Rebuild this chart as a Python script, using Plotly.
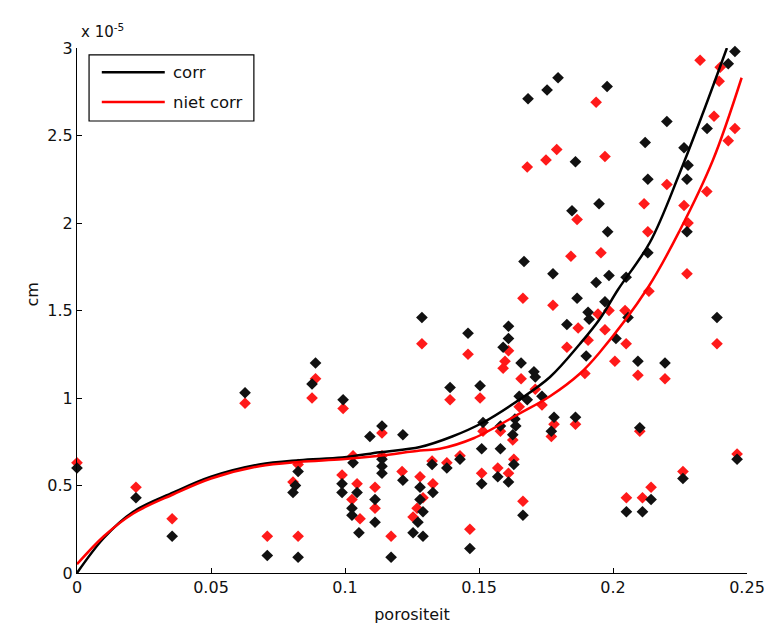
import plotly.graph_objects as go

# ---- data (y in units of 1e-5 cm) ----
black_x = [0.0, 0.022, 0.0355, 0.0627, 0.071, 0.0825, 0.0806, 0.0815, 0.0825, 0.0877, 0.089,
           0.0993, 0.103, 0.0989, 0.0989, 0.1045, 0.1026, 0.1026, 0.1052, 0.1093, 0.1138,
           0.1138, 0.1138, 0.1138, 0.1112, 0.1112, 0.1172, 0.1216, 0.1216, 0.128, 0.128,
           0.1291, 0.1272, 0.1254, 0.1291, 0.1287, 0.1325, 0.1328, 0.1392, 0.138, 0.1429,
           0.1459, 0.1466, 0.1504, 0.1515, 0.158, 0.151, 0.158, 0.151, 0.157, 0.161, 0.163,
           0.1664, 0.161, 0.161, 0.159, 0.1657, 0.1705, 0.171, 0.165, 0.168, 0.1735, 0.1634,
           0.1637, 0.1626, 0.178, 0.177, 0.186, 0.1795, 0.1754, 0.1683, 0.186, 0.1948,
           0.1847, 0.1668, 0.1776, 0.1937, 0.1866, 0.1828, 0.1978, 0.2201, 0.2351, 0.212,
           0.2265, 0.228, 0.2276, 0.213, 0.198, 0.2276, 0.213, 0.1985, 0.2049, 0.197,
           0.1907, 0.1911, 0.2056, 0.2011, 0.19, 0.2093, 0.2194, 0.2388, 0.21, 0.2463,
           0.2261, 0.2142, 0.211, 0.205, 0.2455, 0.243]
black_y = [0.60, 0.43, 0.21, 1.03, 0.10, 0.09, 0.46, 0.50, 0.58, 1.08, 1.20,
           0.99, 0.63, 0.51, 0.46, 0.46, 0.37, 0.33, 0.23, 0.78, 0.84,
           0.65, 0.61, 0.57, 0.42, 0.29, 0.09, 0.79, 0.53, 0.49, 0.42,
           0.35, 0.29, 0.23, 0.21, 1.46, 0.62, 0.46, 1.06, 0.60, 0.65,
           1.37, 0.14, 1.07, 0.86, 0.84, 0.71, 0.71, 0.51, 0.55, 0.52, 0.62,
           0.33, 1.41, 1.34, 1.29, 1.20, 1.15, 1.12, 1.01, 0.99, 1.01, 0.88,
           0.84, 0.79, 0.89, 0.81, 0.89, 2.83, 2.76, 2.71, 2.35, 2.11,
           2.07, 1.78, 1.71, 1.66, 1.57, 1.42, 2.78, 2.58, 2.54, 2.46,
           2.43, 2.33, 2.25, 2.25, 1.95, 1.95, 1.83, 1.70, 1.69, 1.55,
           1.49, 1.45, 1.46, 1.34, 1.24, 1.21, 1.20, 1.46, 0.83, 0.65,
           0.54, 0.42, 0.35, 0.35, 2.98, 2.91]

red_x = [0.0, 0.022, 0.0355, 0.0627, 0.071, 0.0825, 0.0806, 0.0825, 0.0877, 0.089,
         0.0993, 0.103, 0.0989, 0.1045, 0.1026, 0.1056, 0.1138, 0.1138, 0.1112, 0.1112,
         0.1172, 0.1213, 0.128, 0.1291, 0.1269, 0.1254, 0.1287, 0.1325, 0.1328, 0.1392,
         0.138, 0.1429, 0.1459, 0.1466, 0.1504, 0.1515, 0.158, 0.151, 0.157, 0.161, 0.163,
         0.1664, 0.161, 0.1597, 0.159, 0.1657, 0.171, 0.165, 0.1735, 0.1626, 0.178, 0.177,
         0.186, 0.1937, 0.179, 0.175, 0.168, 0.1866, 0.1955, 0.1843, 0.1664, 0.1776,
         0.2325, 0.24, 0.2396, 0.2377, 0.2455, 0.243, 0.197, 0.2201, 0.235, 0.2116,
         0.2265, 0.213, 0.228, 0.2276, 0.2134, 0.1985, 0.2045, 0.187, 0.1944, 0.197,
         0.1907, 0.2049, 0.1828, 0.2007, 0.1895, 0.2093, 0.2194, 0.2388, 0.21, 0.2463,
         0.2261, 0.2142, 0.211, 0.205]
red_y = [0.63, 0.49, 0.31, 0.97, 0.21, 0.21, 0.52, 0.62, 1.00, 1.11,
         0.94, 0.67, 0.56, 0.51, 0.42, 0.31, 0.80, 0.67, 0.49, 0.37,
         0.21, 0.58, 0.55, 0.43, 0.37, 0.32, 1.31, 0.64, 0.51, 0.99,
         0.63, 0.67, 1.25, 0.25, 1.00, 0.81, 0.81, 0.57, 0.60, 0.57, 0.65,
         0.41, 1.27, 1.21, 1.17, 1.11, 1.05, 0.95, 0.96, 0.76, 0.85, 0.78,
         0.85, 2.69, 2.42, 2.36, 2.32, 2.02, 1.83, 1.81, 1.57, 1.53,
         2.93, 2.89, 2.81, 2.61, 2.54, 2.47, 2.38, 2.22, 2.18, 2.11,
         2.10, 1.95, 2.00, 1.71, 1.61, 1.50, 1.50, 1.40, 1.48, 1.39,
         1.33, 1.31, 1.29, 1.21, 1.14, 1.13, 1.11, 1.31, 0.81, 0.68,
         0.58, 0.49, 0.43, 0.43]

# fitted curves
fit_corr_x = [0.0, 0.01, 0.021, 0.036, 0.05, 0.068, 0.083, 0.099, 0.113, 0.128, 0.14,
              0.1515, 0.165, 0.1765, 0.1877, 0.195, 0.2019, 0.2138, 0.225, 0.2336, 0.2425]
fit_corr_y = [0.0, 0.20, 0.35, 0.46, 0.55, 0.62, 0.645, 0.66, 0.69, 0.72, 0.78,
              0.86, 0.99, 1.12, 1.31, 1.45, 1.62, 1.89, 2.29, 2.63, 3.0]
fit_niet_x = [0.0, 0.01, 0.021, 0.036, 0.05, 0.068, 0.083, 0.099, 0.113, 0.128, 0.1354,
              0.148, 0.165, 0.1765, 0.1877, 0.195, 0.213, 0.225, 0.2373, 0.248]
fit_niet_y = [0.05, 0.21, 0.34, 0.45, 0.54, 0.61, 0.635, 0.65, 0.67, 0.70, 0.71,
              0.77, 0.91, 1.01, 1.14, 1.26, 1.63, 1.96, 2.36, 2.83]

legend_names = ["corr", "niet corr"]
legend_colors = ["#000000", "#ff0000"]

x_ticks = [0, 0.05, 0.1, 0.15, 0.2, 0.25]
x_ticklabels = ["0", "0.05", "0.1", "0.15", "0.2", "0.25"]
y_ticks = [0, 0.5, 1, 1.5, 2, 2.5, 3]
y_ticklabels = ["0", "0.5", "1", "1.5", "2", "2.5", "3"]

FONT = "DejaVu Sans, Verdana, sans-serif"
TXT = "#111111"

fig = go.Figure()
fig.add_trace(go.Scatter(x=red_x, y=red_y, mode="markers", showlegend=False,
                         marker=dict(symbol="diamond", size=9, color="#ff1a1a"),
                         cliponaxis=False))
fig.add_trace(go.Scatter(x=black_x, y=black_y, mode="markers", showlegend=False,
                         marker=dict(symbol="diamond", size=9, color="#111111"),
                         cliponaxis=False))
fig.add_trace(go.Scatter(x=fit_corr_x, y=fit_corr_y, mode="lines", name=legend_names[0],
                         showlegend=False,
                         line=dict(color=legend_colors[0], width=2.5, shape="spline")))
fig.add_trace(go.Scatter(x=fit_niet_x, y=fit_niet_y, mode="lines", name=legend_names[1],
                         showlegend=False,
                         line=dict(color=legend_colors[1], width=2.5, shape="spline")))

axis_common = dict(showline=True, linecolor="#000000", linewidth=1, ticks="inside",
                   ticklen=5, tickcolor="#000000", showgrid=False, zeroline=False,
                   mirror=False, automargin=False,
                   tickfont=dict(family=FONT, size=16, color=TXT))

# hand-drawn legend box (MATLAB style) in paper coordinates
shapes = [dict(type="rect", xref="paper", yref="paper", x0=0.018, x1=0.264,
               y0=0.861, y1=0.987, line=dict(color="#000000", width=1.2),
               fillcolor="white", layer="above")]
annotations = []
legend_rows_y = [0.954, 0.897]
for name, col, ly in zip(legend_names, legend_colors, legend_rows_y):
    shapes.append(dict(type="line", xref="paper", yref="paper", x0=0.037, x1=0.131,
                       y0=ly, y1=ly, line=dict(color=col, width=2.5), layer="above"))
    annotations.append(dict(text=name, xref="paper", yref="paper", x=0.140, y=ly,
                            xanchor="left", yanchor="middle", showarrow=False,
                            font=dict(family=FONT, size=16.5, color=TXT)))
annotations.append(dict(text="x 10<sup>-5</sup>", xref="paper", yref="paper",
                        x=0.003, y=1.0, xanchor="left", yanchor="bottom", yshift=5,
                        showarrow=False, font=dict(family=FONT, size=15, color=TXT)))
# y-axis title placed MATLAB-style, close to the tick labels
annotations.append(dict(text="cm", xref="paper", yref="paper", x=-0.066, y=0.53,
                        xanchor="center", yanchor="middle", textangle=-90,
                        showarrow=False, font=dict(family=FONT, size=16, color=TXT)))

fig.update_layout(
    width=768, height=627,
    margin=dict(l=77, r=21, t=48, b=54),
    paper_bgcolor="white", plot_bgcolor="white",
    font=dict(family=FONT, size=16, color=TXT),
    showlegend=False,
    xaxis=dict(range=[0, 0.25], tickvals=x_ticks, ticktext=x_ticklabels,
               title=dict(text="porositeit", font=dict(family=FONT, size=16), standoff=12),
               **axis_common),
    yaxis=dict(range=[0, 3], tickvals=y_ticks, ticktext=y_ticklabels,
               **axis_common),
    shapes=shapes,
    annotations=annotations,
)

fig.write_html("out.html")
